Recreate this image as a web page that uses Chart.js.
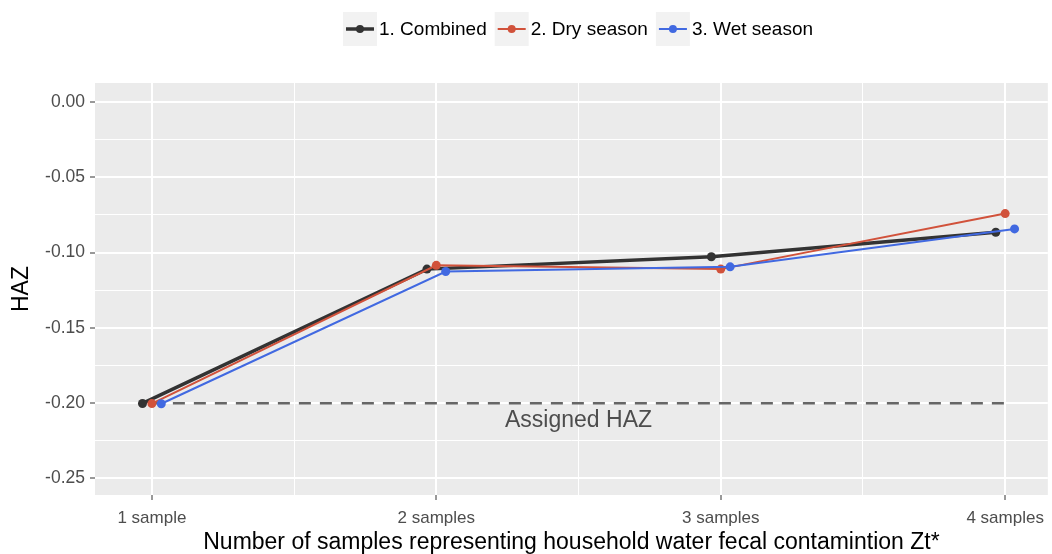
<!DOCTYPE html>
<html>
<head>
<meta charset="utf-8">
<script src="https://cdn.jsdelivr.net/npm/chart.js@4.4.0/dist/chart.umd.min.js"></script>
<style>
    html, body { margin: 0; padding: 0; background: #fff; }
    #wrap { width: 1052px; height: 554px; }
</style>
</head>
<body>
<div id="wrap"><canvas id="chart"></canvas></div>
<script>
// values
const categories = ['1 sample', '2 samples', '3 samples', '4 samples'];
const seriesNames = ['1. Combined', '2. Dry season', '3. Wet season'];
const combined = [-0.2002, -0.1110, -0.1028, -0.0865];
const drySeason = [-0.2003, -0.1085, -0.1110, -0.0741];
const wetSeason = [-0.2004, -0.1126, -0.1095, -0.0843];
const assignedHaz = -0.20;
const assignedLabel = 'Assigned HAZ';
const yTicks = [0, -0.05, -0.10, -0.15, -0.20, -0.25];

const FONT = "'Liberation Sans', Arial, sans-serif";
const colors = ['#333333', '#d1523b', '#4169e1'];
const widths = [3.5, 2, 2];
const dodge = [-0.033, 0, 0.033];

const series = [combined, drySeason, wetSeason].map((vals, s) => ({
    label: seriesNames[s],
    data: vals.map((v, i) => ({ x: i + 1 + dodge[s], y: v })),
    borderColor: colors[s],
    backgroundColor: colors[s],
    borderWidth: widths[s],
    pointRadius: 4.5,
    pointHoverRadius: 4.5,
    pointBorderWidth: 0,
    tension: 0,
    order: 3 - s
}));

const refLine = {
    label: 'assigned',
    data: [{ x: 1, y: assignedHaz }, { x: categories.length, y: assignedHaz }],
    borderColor: '#666666',
    borderWidth: 2.5,
    borderDash: [12, 9],
    pointRadius: 0,
    order: 10
};

const ggplotLook = {
    id: 'ggplotLook',
    beforeDraw(chart) {
        const { ctx, chartArea: a } = chart;
        ctx.save();
        ctx.fillStyle = '#ebebeb';
        ctx.fillRect(a.left, a.top, a.right - a.left, a.bottom - a.top);
        ctx.restore();
    },
    afterDraw(chart) {
        const { ctx, scales } = chart;
        ctx.save();
        // reference label
        ctx.font = '23px ' + FONT;
        ctx.fillStyle = '#4d4d4d';
        ctx.textAlign = 'center';
        ctx.textBaseline = 'middle';
        ctx.fillText(assignedLabel, scales.x.getPixelForValue(2.5), scales.y.getPixelForValue(assignedHaz) + 18);

        // legend, ggplot style
        ctx.font = '19px ' + FONT;
        const box = 34, gap = 2, spacing = 8;
        const textW = seriesNames.map(n => ctx.measureText(n).width);
        const total = textW.reduce((s, w) => s + box + gap + w, 0) + spacing * (seriesNames.length - 1);
        let x = 578 - total / 2;
        const top = 12, cy = top + box / 2;
        ctx.textAlign = 'left';
        seriesNames.forEach((n, i) => {
            ctx.fillStyle = '#f2f2f2';
            ctx.fillRect(x, top, box, box);
            ctx.strokeStyle = colors[i];
            ctx.lineWidth = widths[i];
            ctx.beginPath();
            ctx.moveTo(x + 3, cy);
            ctx.lineTo(x + box - 3, cy);
            ctx.stroke();
            ctx.fillStyle = colors[i];
            ctx.beginPath();
            ctx.arc(x + box / 2, cy, 4, 0, Math.PI * 2);
            ctx.fill();
            ctx.fillStyle = '#000';
            ctx.fillText(n, x + box + gap, cy + 1);
            x += box + gap + textW[i] + spacing;
        });
        ctx.restore();
    }
};

new Chart(document.getElementById('chart'), {
    type: 'line',
    data: { datasets: [...series, refLine] },
    options: {
        responsive: true,
        maintainAspectRatio: false,
        animation: false,
        layout: { autoPadding: false, padding: { top: 83, right: 2, left: 0, bottom: 0 } },
        plugins: {
            legend: { display: false },
            tooltip: { enabled: false }
        },
        scales: {
            x: {
                type: 'linear',
                min: 0.8,
                max: 4.15,
                afterBuildTicks(scale) {
                    scale.ticks = [1, 1.5, 2, 2.5, 3, 3.5, 4].map(v => ({ value: v }));
                },
                afterFit(scale) { scale.height = 59; },
                border: { display: false },
                grid: {
                    color: '#ffffff',
                    lineWidth: c => (Number.isInteger(c.tick.value) ? 2 : 1),
                    tickColor: c => (Number.isInteger(c.tick.value) ? '#333333' : 'rgba(0,0,0,0)'),
                    tickLength: 5,
                    tickWidth: 1
                },
                ticks: {
                    autoSkip: false,
                    maxRotation: 0,
                    padding: 8,
                    color: '#4d4d4d',
                    font: { family: FONT, size: 17 },
                    callback: v => (Number.isInteger(v) ? categories[v - 1] : '')
                },
                title: {
                    display: true,
                    text: 'Number of samples representing household water fecal contamintion Zt*',
                    color: '#000',
                    font: { family: FONT, size: 23, lineHeight: 1 },
                    padding: { top: 2, bottom: 0 }
                }
            },
            y: {
                min: -0.261,
                max: 0.0126,
                afterBuildTicks(scale) {
                    const t = [];
                    for (let k = 0; k <= 10; k++) t.push({ value: -k * 0.025 });
                    scale.ticks = t;
                },
                afterFit(scale) { scale.width = 95; },
                border: { display: false },
                grid: {
                    color: '#ffffff',
                    lineWidth: c => (yTicks.some(v => Math.abs(v - c.tick.value) < 1e-6) ? 2 : 1),
                    tickColor: c => (yTicks.some(v => Math.abs(v - c.tick.value) < 1e-6) ? '#333333' : 'rgba(0,0,0,0)'),
                    tickLength: 5,
                    tickWidth: 1
                },
                ticks: {
                    autoSkip: false,
                    padding: 5,
                    color: '#4d4d4d',
                    font: { family: FONT, size: 17.5 },
                    callback: v => {
                        const hit = yTicks.find(t => Math.abs(t - v) < 1e-6);
                        return hit === undefined ? '' : hit.toFixed(2);
                    }
                },
                title: {
                    display: true,
                    text: 'HAZ',
                    color: '#000',
                    font: { family: FONT, size: 23, lineHeight: 1 },
                    padding: { top: 10, bottom: 0 }
                }
            }
        }
    },
    plugins: [ggplotLook]
});
</script>
</body>
</html>
